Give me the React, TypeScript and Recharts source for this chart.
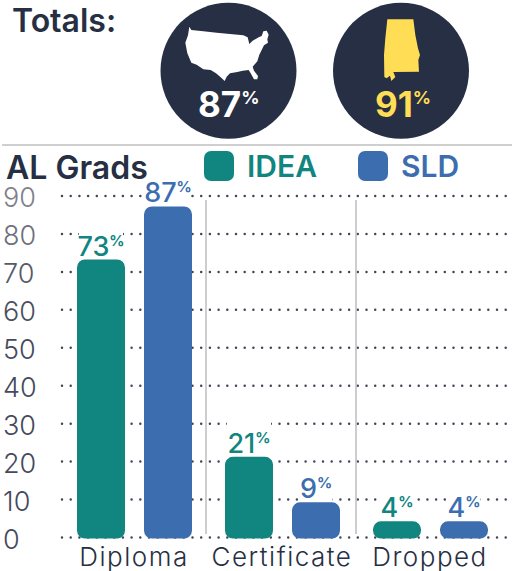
import { BarChart, Bar, XAxis, YAxis, CartesianGrid, Legend, LabelList } from 'recharts';

const categories = ['Diploma', 'Certificate', 'Dropped'];
const ideaValues = [73, 21, 4];
const sldValues = [87, 9, 4];
const yTicks = [0, 10, 20, 30, 40, 50, 60, 70, 80, 90];
const yTickColors = ['#454a5c', '#454a5c', '#454a5c', '#454a5c', '#454a5c', '#454a5c', '#4b4f60', '#565a6a', '#6e707d', '#7f808b'];

const FONT = 'Inter, "Noto Sans", sans-serif';
const NAVY = '#262f43';
const TEAL = '#118580';
const BLUE = '#3c6eaf';
const YELLOW = '#ffdd55';

const data = categories.map((name, i) => ({ name, idea: ideaValues[i], sld: sldValues[i] }));

// zoomed 3x
const USA_SHAPE = 'M28 20 L34 30 L70 34 L110 38 L150 42 L190 46 L203 52 L208 72 L218 62 L236 52 L245 48 L250 34 L260 32 L266 44 L262 58 L264 68 L252 76 L244 92 L238 104 L232 124 L218 140 L222 152 L234 168 L232 178 L222 178 L212 160 L206 150 L188 152 L172 156 L150 160 L140 170 L134 183 L122 172 L108 160 L92 150 L70 148 L50 134 L34 128 L22 100 L16 68 L24 46 Z';
const ALABAMA_SHAPE = 'M52 13 L130 13 L136 60 L144 100 L150 120 L145 135 L147 170 L70 171 L76 186 L64 198 L60 182 L50 190 L43 186 L42 120 L46 70 Z';

function TotalsBadges() {
  return (
    <svg width={519} height={150} style={{ position: 'absolute', left: 0, top: 0 }}>
      <text x={12} y={32} fontSize={32} fontWeight={600} fill={NAVY} fontFamily={FONT}>Totals:</text>
      <circle cx={228.5} cy={70.7} r={68} fill={NAVY} />
      <circle cx={401} cy={70.7} r={68} fill={NAVY} />
      <path d={USA_SHAPE} fill="#fff" transform="translate(180 20) scale(0.3333)" />
      <path d={ALABAMA_SHAPE} fill={YELLOW} transform="translate(370 15) scale(0.3333)" />
      <text x={198} y={117} fontSize={35} fontWeight={700} fill="#fff" fontFamily={FONT}>
        87<tspan fontSize={18} dy={-13}>%</tspan>
      </text>
      <text x={375} y={117} fontSize={35} fontWeight={700} fill={YELLOW} fontFamily={FONT}>
        91<tspan fontSize={18} dy={-13}>%</tspan>
      </text>
      <line x1={2} x2={512} y1={145} y2={145} stroke="#cfcfcf" strokeWidth={2} />
    </svg>
  );
}

function LegendRow({ payload }: any) {
  return (
    <div style={{ display: 'flex', paddingLeft: 204, paddingTop: 1, fontFamily: FONT }}>
      {(payload ?? []).map((item: any) => (
        <div key={item.value} style={{ width: 154, flex: 'none', display: 'flex', alignItems: 'center', height: 34 }}>
          <span style={{ width: 30, height: 30, flex: 'none', borderRadius: 7, background: item.color, marginRight: 13 }} />
          <span style={{ color: item.color, fontSize: 30, fontWeight: 600 }}>{item.value}</span>
        </div>
      ))}
    </div>
  );
}

function YTick({ y, payload, index }: any) {
  return (
    <text x={3} y={y + 11} fontSize={27} fill={yTickColors[index]} fontFamily={FONT} fontWeight={300}>
      {payload.value}
    </text>
  );
}

function makeBarLabel(color: string) {
  return function BarLabel({ x, y, width, value }: any) {
    const cx = x + width / 2;
    const base = y - 5;
    const boxW = String(value).length > 1 ? 44 : 33;
    return (
      <g>
        <rect x={cx - boxW / 2} y={base - 33} width={boxW} height={36} fill="#fff" />
        <text x={cx} y={base} textAnchor="middle" fontSize={27} fontWeight={500} fill={color} fontFamily={FONT}>
          {value}
          <tspan fontSize={15} fontWeight={700} dy={-10}>%</tspan>
        </text>
      </g>
    );
  };
}

export default function App() {
  return (
    <div style={{ position: 'absolute', left: 0, top: 0, width: 519, height: 571, background: '#fff', overflow: 'hidden' }}>
      <BarChart
        width={519}
        height={571}
        data={data}
        barSize={46}
        barGap={21}
        margin={{ top: 148, right: 12, bottom: 0, left: 0 }}
      >
        <CartesianGrid vertical={false} stroke="#3f4656" strokeWidth={2.5} strokeDasharray="0 8.7" strokeLinecap="round" />
        <CartesianGrid horizontal={false} verticalPoints={[206, 356]} y={200} height={334} stroke="#bdbdbd" strokeWidth={1.5} />
        <XAxis
          dataKey="name"
          interval={0}
          height={33.5}
          axisLine={false}
          tickLine={false}
          padding={{ left: -2, right: 3 }}
          tick={{ fontSize: 26, fill: NAVY, fontFamily: FONT, fontWeight: 300, letterSpacing: 1.5 }}
          tickMargin={4}
        />
        <YAxis width={62} domain={[0, 90]} ticks={yTicks} axisLine={false} tickLine={false} tick={<YTick />} />
        <Legend
          verticalAlign="top"
          align="left"
          height={48}
          content={<LegendRow />}
        />
        <Bar dataKey="idea" name="IDEA" fill={TEAL} stroke={TEAL} strokeWidth={2} radius={7} isAnimationActive={false}>
          <LabelList dataKey="idea" content={makeBarLabel(TEAL)} />
        </Bar>
        <Bar dataKey="sld" name="SLD" fill={BLUE} stroke={BLUE} strokeWidth={2} radius={7} isAnimationActive={false}>
          <LabelList dataKey="sld" content={makeBarLabel(BLUE)} />
        </Bar>
      </BarChart>
      <TotalsBadges />
      <div style={{ position: 'absolute', left: 6, top: 152, fontFamily: FONT, fontSize: 32, fontWeight: 600, color: NAVY, lineHeight: '32px' }}>
        AL Grads
      </div>
    </div>
  );
}
